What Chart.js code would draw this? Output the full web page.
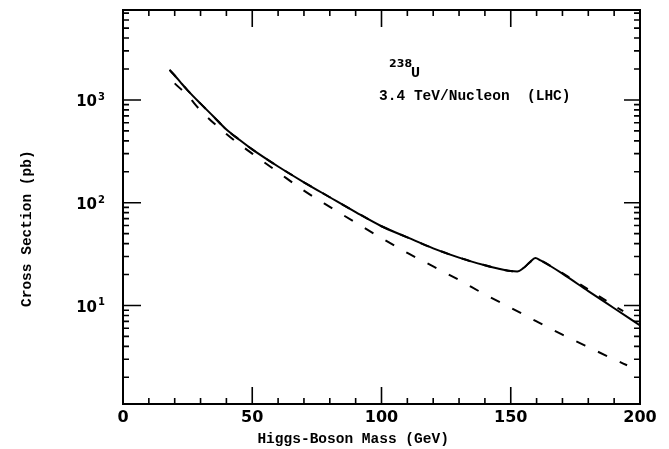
<!DOCTYPE html>
<html>
<head>
<meta charset="utf-8">
<script src="https://cdn.jsdelivr.net/npm/chart.js@4/dist/chart.umd.min.js"></script>
<style>
  html, body { margin: 0; padding: 0; background: #fff; }
</style>
</head>
<body>
<canvas id="xsecChart" width="669" height="449"></canvas>
<script>
// Higgs production cross section, 238U at 3.4 TeV/Nucleon (LHC)
const solidMass = [18, 20, 22.5, 25, 30, 35, 40, 45, 50, 60, 70, 80, 90, 100, 110, 120, 130, 140, 145, 150, 152.5, 155, 157.5, 159.5, 161.5, 165, 170, 180, 190, 200];
const solidXsec = [1960, 1730, 1460, 1240, 920, 690, 515, 410, 330, 225, 158, 113, 81, 59, 46, 36, 29.2, 24.6, 22.9, 21.6, 21.4, 23.2, 26.5, 28.9, 27.5, 24.5, 20.4, 13.8, 9.4, 6.4];

const upperMass = [18, 20, 22.5, 25, 30, 35, 40, 45, 50, 60, 70, 80, 90, 100, 110, 120, 130, 140, 145, 150, 152.5, 155, 157.5, 159.5, 161.5, 165, 170, 180, 190, 193.5];
const upperXsec = [1960, 1730, 1460, 1240, 920, 690, 515, 410, 330, 225, 158, 113, 81, 59, 46, 36, 29.2, 24.6, 22.9, 21.6, 21.4, 23.2, 26.5, 28.9, 27.5, 24.6, 20.6, 14.3, 9.95, 8.8];

const lowerMass = [20, 25, 30, 40, 50, 60, 70, 80, 90, 100, 110, 120, 130, 140, 150, 160, 170, 180, 190, 195];
const lowerXsec = [1450, 1100, 790, 466, 300, 198, 131, 91, 64, 45.3, 32.5, 24, 17.7, 12.8, 9.5, 7.0, 5.2, 3.93, 2.99, 2.62];

const xMajorTicks = [0, 50, 100, 150, 200];
const xMinorTicks = [10, 20, 30, 40, 60, 70, 80, 90, 110, 120, 130, 140, 160, 170, 180, 190];
const yMajorTicks = [10, 100, 1000];
const yMajorLabels = ["1", "2", "3"];
const yMinorTicks = [2, 3, 4, 5, 6, 7, 8, 9, 20, 30, 40, 50, 60, 70, 80, 90, 200, 300, 400, 500, 600, 700, 800, 900, 2000, 3000, 4000, 5000, 6000, 7000];

function toPoints(xs, ys) {
  return xs.map((x, i) => ({ x: x, y: ys[i] }));
}

const monoFont = "bold 14.5px 'Liberation Mono'";

// frame, inward ticks, y labels and texts
const framePlugin = {
  id: "framePlugin",
  afterDraw(chart) {
    const ctx = chart.ctx;
    const a = chart.chartArea;
    const xs = chart.scales.x;
    const ys = chart.scales.y;
    ctx.save();
    ctx.strokeStyle = "#000";
    ctx.fillStyle = "#000";
    ctx.lineWidth = 2;
    ctx.strokeRect(a.left, a.top, a.right - a.left, a.bottom - a.top);

    ctx.lineWidth = 1.6;
    ctx.beginPath();
    xMajorTicks.forEach((v) => {
      const p = xs.getPixelForValue(v);
      ctx.moveTo(p, a.bottom); ctx.lineTo(p, a.bottom - 17);
      ctx.moveTo(p, a.top); ctx.lineTo(p, a.top + 17);
    });
    xMinorTicks.forEach((v) => {
      const p = xs.getPixelForValue(v);
      ctx.moveTo(p, a.bottom); ctx.lineTo(p, a.bottom - 6);
      ctx.moveTo(p, a.top); ctx.lineTo(p, a.top + 6);
    });
    yMajorTicks.forEach((v) => {
      const p = ys.getPixelForValue(v);
      ctx.moveTo(a.left, p); ctx.lineTo(a.left + 18, p);
      ctx.moveTo(a.right, p); ctx.lineTo(a.right - 16, p);
    });
    yMinorTicks.forEach((v) => {
      const p = ys.getPixelForValue(v);
      ctx.moveTo(a.left, p); ctx.lineTo(a.left + 6, p);
      ctx.moveTo(a.right, p); ctx.lineTo(a.right - 6, p);
    });
    ctx.stroke();

    // y tick labels 10^n
    yMajorTicks.forEach((v, i) => {
      const p = ys.getPixelForValue(v);
      ctx.font = "bold 10px 'DejaVu Sans'";
      const supW = ctx.measureText(yMajorLabels[i]).width;
      ctx.font = "bold 15px 'DejaVu Sans'";
      const baseW = ctx.measureText("10").width;
      const right = a.left - 18;
      ctx.textAlign = "left";
      ctx.textBaseline = "alphabetic";
      ctx.fillText("10", right - supW - baseW - 1, p + 6.5);
      ctx.font = "bold 10px 'DejaVu Sans'";
      ctx.fillText(yMajorLabels[i], right - supW, p);
    });

    // annotation
    const ax = xs.getPixelForValue(101);
    ctx.textAlign = "left";
    ctx.font = "bold 11px 'DejaVu Sans'";
    ctx.fillText("238", ax + 5, a.top + 57);
    ctx.font = "bold 15px 'Liberation Mono'";
    ctx.fillText("U", ax + 27, a.top + 67);
    ctx.font = monoFont;
    ctx.fillText("3.4 TeV/Nucleon  (LHC)", ax - 5, a.top + 90);

    // axis titles
    ctx.font = monoFont;
    ctx.fillText("Higgs-Boson Mass (GeV)", xs.getPixelForValue(52), a.bottom + 39);
    ctx.translate(31, 307);
    ctx.rotate(-Math.PI / 2);
    ctx.fillText("Cross Section (pb)", 0, 0);
    ctx.restore();
  },
};

const ctx = document.getElementById("xsecChart").getContext("2d");
const xsecChart = new Chart(ctx, {
  type: "line",
  data: {
    datasets: [
      {
        label: "solid",
        data: toPoints(solidMass, solidXsec),
        borderColor: "#000",
        borderWidth: 2,
        pointRadius: 0,
        cubicInterpolationMode: "monotone",
      },
      {
        label: "upper dashed",
        data: toPoints(upperMass, upperXsec),
        borderColor: "#000",
        borderWidth: 2,
        borderDash: [9, 13],
        pointRadius: 0,
        cubicInterpolationMode: "monotone",
      },
      {
        label: "lower dashed",
        data: toPoints(lowerMass, lowerXsec),
        borderColor: "#000",
        borderWidth: 2,
        borderDash: [10, 14],
        pointRadius: 0,
        cubicInterpolationMode: "monotone",
      },
    ],
  },
  options: {
    responsive: false,
    animation: false,
    layout: { padding: { left: 0, top: 10, right: 29, bottom: 0 } },
    plugins: {
      legend: { display: false },
      tooltip: { enabled: false },
    },
    scales: {
      x: {
        type: "linear",
        min: 0,
        max: 200,
        grid: { display: false, drawTicks: false },
        border: { display: false },
        afterBuildTicks: (scale) => {
          scale.ticks = xMajorTicks.map((v) => ({ value: v }));
        },
        afterFit: (scale) => {
          scale.height = 45;
        },
        ticks: {
          color: "#000",
          padding: 4,
          maxRotation: 0,
          font: { family: "DejaVu Sans", weight: "bold", size: 16 },
        },
      },
      y: {
        type: "logarithmic",
        min: 1.1,
        max: 7500,
        grid: { display: false, drawTicks: false },
        border: { display: false },
        ticks: { display: false },
        afterFit: (scale) => {
          scale.width = 123;
        },
      },
    },
  },
  plugins: [framePlugin],
});
</script>
</body>
</html>
